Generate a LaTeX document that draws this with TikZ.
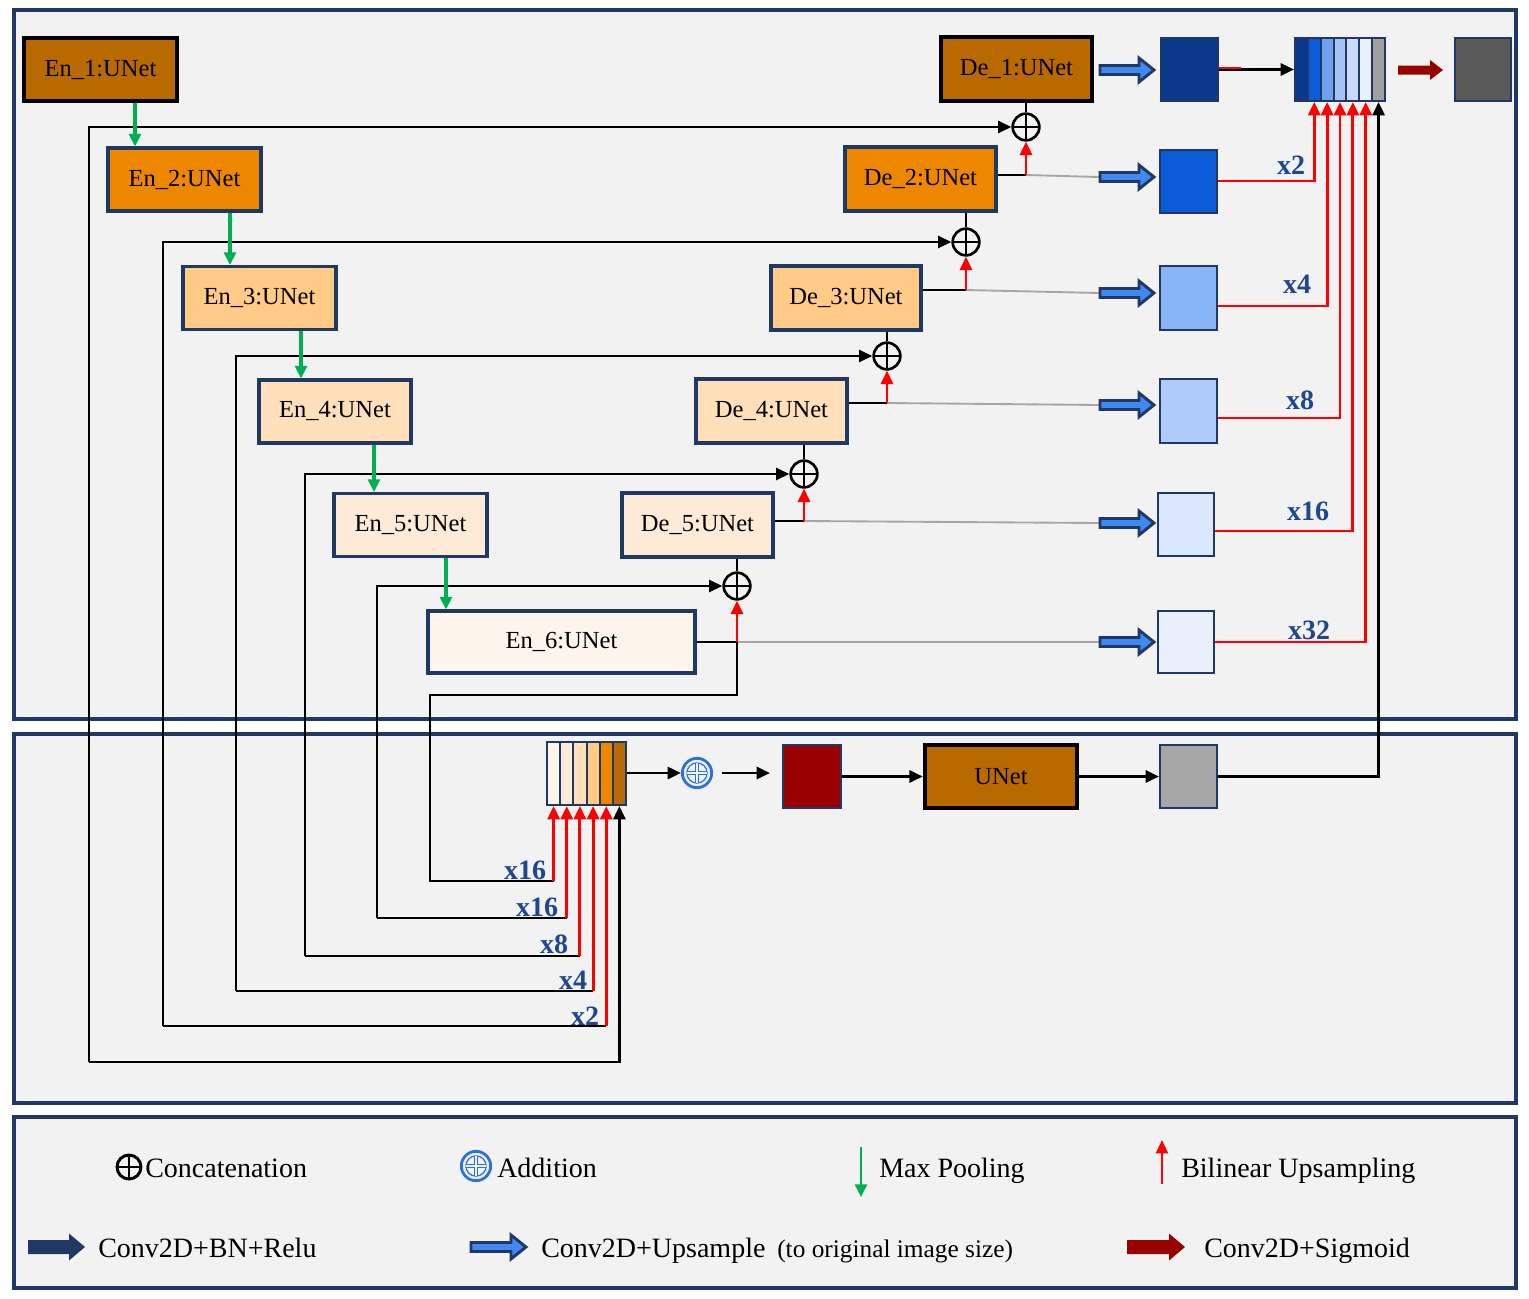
\documentclass[tikz,border=0pt]{standalone}
\usepackage{fontspec}
\setmainfont{Liberation Serif}
\usetikzlibrary{arrows.meta}
\definecolor{navy}{HTML}{1F3864}
\definecolor{pan}{HTML}{F2F2F2}
\definecolor{oA}{HTML}{B86A00}
\definecolor{oB}{HTML}{EE8700}
\definecolor{oC}{HTML}{FFCB87}
\definecolor{oD}{HTML}{FFE0BA}
\definecolor{oE}{HTML}{FDEBD8}
\definecolor{oF}{HTML}{FDF5EB}
\definecolor{bA}{HTML}{0B3A8C}
\definecolor{bB}{HTML}{0B5AD8}
\definecolor{bC}{HTML}{8AB4F8}
\definecolor{bD}{HTML}{AECBF9}
\definecolor{bE}{HTML}{DAE7FC}
\definecolor{bF}{HTML}{E9F0FC}
\definecolor{sC}{HTML}{6FA0EA}
\definecolor{sD}{HTML}{A3C3F4}
\definecolor{sE}{HTML}{C8DAF8}
\definecolor{sG}{HTML}{A0A0A0}
\definecolor{finalgray}{HTML}{595959}
\definecolor{midgray}{HTML}{A6A6A6}
\definecolor{dred}{HTML}{990000}
\definecolor{arrblue}{HTML}{4189F2}
\definecolor{labblue}{HTML}{1F4690}
\definecolor{pgreen}{HTML}{00B050}
\definecolor{addblue}{HTML}{2A70E0}
\definecolor{linegray}{HTML}{A6A6A6}
\newcommand{\myblockarrow}[7]{\path[#1] (#2,{#4-#5}) -- ({#3-#7},{#4-#5}) -- ({#3-#7},{#4-#6}) -- (#3,#4) -- ({#3-#7},{#4+#6}) -- ({#3-#7},{#4+#5}) -- (#2,{#4+#5}) -- cycle;}
\begin{document}
\begin{tikzpicture}[x=0.75pt,y=-0.75pt,
  wh/.style 2 args={minimum width={#1*0.75pt},minimum height={#2*0.75pt}},
  panel/.style={draw=navy,fill=pan,line width=2.3pt},
  box/.style={draw=navy,line width=2.3pt,inner sep=0pt,wh={153}{63},font=\fontsize{18.4}{22}\selectfont},
  boxk/.style={box,draw=black,line width=3.3pt},
  sq/.style={draw=navy,line width=1.5pt,inner sep=0pt,wh={57}{63}},
  stripe/.style={draw=navy,line width=1.5pt,inner sep=0pt},
  cat/.style={circle,draw=black,line width=2pt,minimum size=20pt,inner sep=0pt,fill=pan,
    path picture={\draw[black,line width=2pt] (path picture bounding box.north)--(path picture bounding box.south) (path picture bounding box.west)--(path picture bounding box.east);}},
  addsym/.style={circle,draw=addblue,line width=2.1pt,minimum size=22pt,inner sep=0pt,fill=pan,
    path picture={\draw[addblue,line width=0.9pt] (path picture bounding box.center) circle[radius=7.6pt];
      \draw[addblue,line width=0.7pt,double=pan,double distance=1.3pt] ([yshift=7.6pt]path picture bounding box.center) -- ([yshift=-7.6pt]path picture bounding box.center) ([xshift=-7.6pt]path picture bounding box.center) -- ([xshift=7.6pt]path picture bounding box.center);}},
  blk/.style={draw=black,line width=2.1pt},
  rd/.style={draw=red,line width=2.2pt},
  rarr/.style={rd,-{Triangle[length=10pt,width=9pt]}},
  barr/.style={blk,-{Triangle[length=10pt,width=9pt]}},
  garr/.style={draw=pgreen,line width=2.3pt,-{Triangle[length=9.5pt,width=9pt]}},
  gry/.style={draw=linegray,line width=1.4pt},
  lab/.style={font=\fontsize{21}{24}\selectfont\bfseries,text=labblue,inner sep=0pt},
  leg/.style={font=\fontsize{21}{24}\selectfont,inner sep=0pt,anchor=base west},
  upar/.style={fill=arrblue,draw=navy,line width=2.2pt}
]
\useasboundingbox (0,0) rectangle (1529,1299);
\fill[white] (0,0) rectangle (1529,1299);
% panels
\draw[panel] (14,10) rectangle (1516,719);
\draw[panel] (14,734) rectangle (1516,1103);
\draw[panel] (14,1117) rectangle (1516,1288);

% encoder / decoder boxes
\node[boxk,fill=oA] (En1) at (100.5,69.5) {En\_1:UNet};
\node[box,fill=oB] (En2) at (184.5,179.5) {En\_2:UNet};
\node[box,fill=oC] (En3) at (259.5,298) {En\_3:UNet};
\node[box,fill=oD,wh={152}{63}] (En4) at (335,411.5) {En\_4:UNet};
\node[box,fill=oE] (En5) at (410.5,525) {En\_5:UNet};
\node[box,fill=oF,wh={267}{62}] (En6) at (561.5,642) {En\_6:UNet};
\node[boxk,fill=oA,wh={151}{64}] (De1) at (1016.5,69) {De\_1:UNet};
\node[box,fill=oB,wh={151}{64}] (De2) at (920.5,179) {De\_2:UNet};
\node[box,fill=oC,wh={150}{64}] (De3) at (846,298) {De\_3:UNet};
\node[box,fill=oD,wh={151}{64}] (De4) at (771.5,411) {De\_4:UNet};
\node[box,fill=oE,wh={151}{64}] (De5) at (697.5,525) {De\_5:UNet};

% output squares
\node[sq,fill=bA] (S1) at (1189.5,69.5) {};
\node[sq,fill=bB] (S2) at (1188.5,181.5) {};
\node[sq,fill=bC,wh={57}{64}] (S3) at (1188.5,298) {};
\node[sq,fill=bD,wh={57}{64}] (S4) at (1188.5,411) {};
\node[sq,fill=bE,wh={56}{63}] (S5) at (1186,524.5) {};
\node[sq,fill=bF,wh={56}{62}] (S6) at (1186,642) {};
\node[sq,fill=finalgray,wh={56}{63}] (F) at (1483,69.5) {};
\node[sq,fill=dred,wh={58}{63}] (DR) at (812,776.5) {};
\node[boxk,fill=oA,wh={152}{63}] (U) at (1001,776.5) {UNet};
\node[sq,fill=midgray] (G) at (1188.5,776.5) {};

% concatenated blocks
\foreach \i/\c in {1/bA,2/bB,3/sC,4/sD,5/sE,6/bF,7/sG}
  {\node[stripe,fill=\c,wh={12.857}{63}] (t\i) at ({1295+12.857*(\i-0.5)},69.5) {};}
\foreach \i/\c in {1/oF,2/oE,3/oD,4/oC,5/oB,6/oA}
  {\node[stripe,fill=\c,wh={13.1667}{63}] (b\i) at ({547+13.1667*(\i-0.5)},773.5) {};}

% concatenation circles
\node[cat] (C1) at (1026,127) {};
\node[cat] (C2) at (966,242) {};
\node[cat] (C3) at (887,356) {};
\node[cat] (C4) at (804,474) {};
\node[cat] (C5) at (737,586) {};
\node[addsym] (A) at (697,773) {};

% junctions
\coordinate (j2) at (1026,175);
\coordinate (j3) at (966,290);
\coordinate (j4) at (887,403);
\coordinate (j5) at (804,521);
\coordinate (j6) at (737,642);

% gray lines to upsample arrows
\draw[gry] (j2) -- (1099,177);
\draw[gry] (j3) -- (1099,293);
\draw[gry] (j4) -- (1099,405);
\draw[gry] (j5) -- (1099,523);
\draw[gry] (j6) -- (1099,642);
\foreach \yy in {70,177,293,405,523,642}
  {\myblockarrow{upar}{1100}{1154}{\yy}{4.5}{12}{15}}

% decoder connections
\draw[blk] (De1.south -| C1) -- (C1.north);
\draw[blk] (De2.south -| C2) -- (C2.north);
\draw[blk] (De3.south -| C3) -- (C3.north);
\draw[blk] (De4.south -| C4) -- (C4.north);
\draw[blk] (De5.south -| C5) -- (C5.north);
\draw[blk] (De2.east |- j2) -- (j2);
\draw[blk] (De3.east |- j3) -- (j3);
\draw[blk] (De4.east |- j4) -- (j4);
\draw[blk] (De5.east |- j5) -- (j5);
\draw[blk] (En6.east |- j6) -- (j6);
\draw[rarr] (j2) -- (C1.south);
\draw[rarr] (j3) -- (C2.south);
\draw[rarr] (j4) -- (C3.south);
\draw[rarr] (j5) -- (C4.south);
\draw[rarr] (j6) -- (C5.south);

% skip connections
\coordinate (k1) at (89,1062);
\coordinate (k2) at (163,1026);
\coordinate (k3) at (236,991);
\coordinate (k4) at (305,956);
\coordinate (k5) at (377,918);
\coordinate (k6) at (430,881);
\coordinate (m6) at (737,695);
\draw[barr] (k1) |- (C1.west);
\draw[barr] (k1) -| (b6.south);
\draw[barr] (k2) |- (C2.west);
\draw[barr] (k3) |- (C3.west);
\draw[barr] (k4) |- (C4.west);
\draw[barr] (k5) |- (C5.west);
\draw[blk] (k2) -- (k2 -| b5.south);
\draw[blk] (k3) -- (k3 -| b4.south);
\draw[blk] (k4) -- (k4 -| b3.south);
\draw[blk] (k5) -- (k5 -| b2.south);
\draw[blk] (j6) -- (m6) -- (m6 -| k6) -- (k6) -- (k6 -| b1.south);
\draw[rarr] (k2 -| b5.south) -- (b5.south);
\draw[rarr] (k3 -| b4.south) -- (b4.south);
\draw[rarr] (k4 -| b3.south) -- (b3.south);
\draw[rarr] (k5 -| b2.south) -- (b2.south);
\draw[rarr] (k6 -| b1.south) -- (b1.south);
\node[lab] (l16a) at (525,870) {x16};
\node[lab] (l16b) at (537,907) {x16};
\node[lab] (l8) at (554,944) {x8};
\node[lab] (l4) at (573,980) {x4};
\node[lab] (l2) at (585,1016) {x2};

% max pooling
\coordinate (g1) at (135,0);
\coordinate (g2) at (230,0);
\coordinate (g3) at (301,0);
\coordinate (g4) at (374,0);
\coordinate (g5) at (446,0);
\draw[garr] (En1.south -| g1) -- (En2.north -| g1);
\draw[garr] (En2.south -| g2) -- (En3.north -| g2);
\draw[garr] (En3.south -| g3) -- (En4.north -| g3);
\draw[garr] (En4.south -| g4) -- (En5.north -| g4);
\draw[garr] (En5.south -| g5) -- (En6.north -| g5);

% top right output
\draw[barr] (S1.east) -- (t1.west);
\draw[red,line width=1.2pt] ([yshift=1pt]S1.east) -- ++(22,0);
\coordinate (r2) at (0,181);
\coordinate (r3) at (0,306);
\coordinate (r4) at (0,418);
\coordinate (r5) at (0,531);
\coordinate (r6) at (0,642);
\draw[rarr] (S2.east |- r2) -| (t2.south);
\draw[rarr] (S3.east |- r3) -| (t3.south);
\draw[rarr] (S4.east |- r4) -| (t4.south);
\draw[rarr] (S5.east |- r5) -| (t5.south);
\draw[rarr] (S6.east |- r6) -| (t6.south);
\draw[barr] (G.east) -| (t7.south);
\myblockarrow{fill=dred}{1398}{1443}{70}{4.5}{10}{13}
\node[lab] (u2) at (1291,165) {x2};
\node[lab] (u4) at (1297,284) {x4};
\node[lab] (u8) at (1300,400) {x8};
\node[lab] (u16) at (1308,511) {x16};
\node[lab] (u32) at (1309,630) {x32};

% bottom row
\draw[barr] (b6.east |- A) -- (A.west);
\draw[barr,shorten <=7pt,shorten >=9pt] (A.east) -- (DR.west |- A);
\draw[barr] (DR.east) -- (U.west);
\draw[barr] (U.east) -- (G.west);

% legend
\node[cat,minimum size=18pt,line width=2.2pt] (Lc) at (129,1167) {};
\node[leg] (Lct) at (145,1177) {Concatenation};
\node[addsym] (La) at (476,1166) {};
\node[leg] (Lat) at (497,1177) {Addition};
\coordinate (lg1) at (861,1147);
\coordinate (lg2) at (861,1197);
\draw[garr,line width=1.8pt] (lg1) -- (lg2);
\node[leg] (Lmt) at (879,1177) {Max Pooling};
\coordinate (lr1) at (1162,1184);
\coordinate (lr2) at (1162,1140);
\draw[rarr,line width=1.6pt] (lr1) -- (lr2);
\node[leg] (Lbt) at (1181,1177) {Bilinear Upsampling};
\myblockarrow{fill=navy}{28}{85}{1247}{7}{13.5}{16}
\node[leg] (Lrt) at (98,1257) {Conv2D+BN+Relu};
\myblockarrow{upar}{471}{526}{1247}{4.5}{12}{15}
\node[leg] (Lut) at (541,1257) {Conv2D+Upsample};
\node[leg,font=\fontsize{19}{22}\selectfont] (Lot) at (777,1257) {(to original image size)};
\myblockarrow{fill=dred}{1127}{1185}{1247}{7}{13.5}{16}
\node[leg] (Lst) at (1204,1257) {Conv2D+Sigmoid};
\end{tikzpicture}
\end{document}
